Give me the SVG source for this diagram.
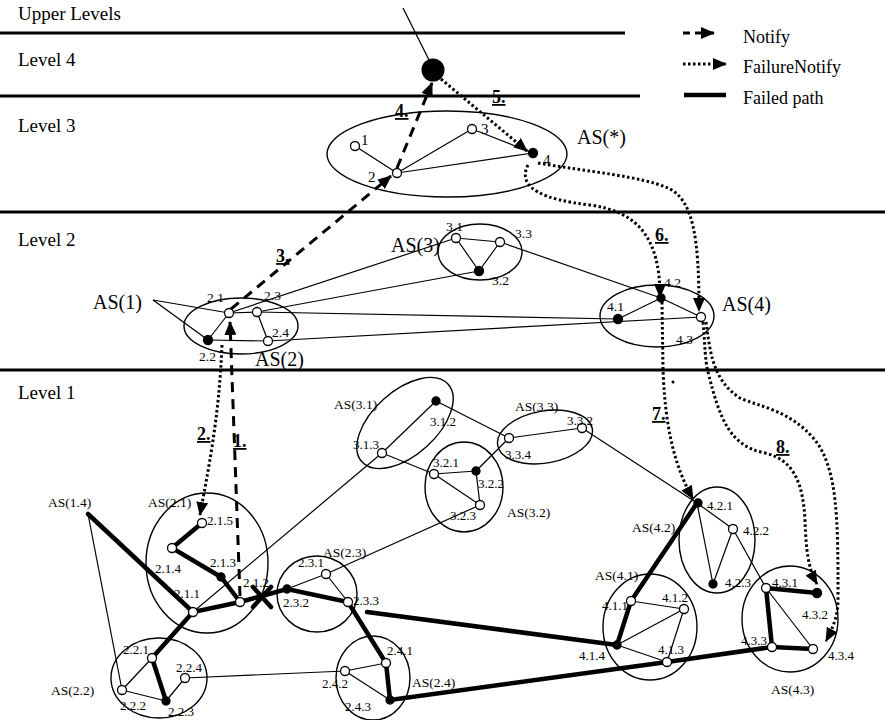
<svg xmlns="http://www.w3.org/2000/svg" width="885" height="720" viewBox="0 0 885 720">
<style>
text{font-family:"Liberation Serif","Times New Roman",serif;fill:#000}
.lv{font-size:19px}
.lg{font-size:18px}
.as2{font-size:20px}
.n2{font-size:13.5px}
.n1{font-size:13px}
.as1{font-size:13.5px}
.st{font-size:18px;font-weight:bold;text-decoration:underline}
.o{fill:#fff;stroke:#000;stroke-width:1.3}
.f{fill:#000;stroke:#000;stroke-width:1.3}
.el{fill:none;stroke:#000;stroke-width:1.4}
.band{stroke:#000;stroke-width:3}
.thin{stroke:#000;stroke-width:1.2;fill:none}
.thick{stroke:#000;stroke-width:4.5;fill:none;stroke-linecap:round}
.dash{stroke:#000;stroke-width:3;fill:none;stroke-dasharray:10 7}
.dot{stroke:#000;stroke-width:3;fill:none;stroke-dasharray:2.5 2.5}
</style>
<defs>
<marker id="ah" markerUnits="userSpaceOnUse" markerWidth="14" markerHeight="12" refX="13" refY="6" orient="auto">
<path d="M0,0 L14,6 L0,12 z" fill="#000"/>
</marker>
</defs>
<rect width="885" height="720" fill="#fff"/>

<g id="bands">
<line class="band" x1="0" y1="33" x2="625" y2="33"/>
<line class="band" x1="0" y1="96" x2="640" y2="96"/>
<line class="band" x1="0" y1="212" x2="885" y2="212"/>
<line class="band" x1="0" y1="370" x2="885" y2="370"/>
<text class="lv" x="18" y="20">Upper Levels</text>
<text class="lv" x="18" y="66">Level 4</text>
<text class="lv" x="18" y="132">Level 3</text>
<text class="lv" x="18" y="246">Level 2</text>
<text class="lv" x="18" y="399">Level 1</text>
</g>

<g id="legend">
<line class="dash" x1="683" y1="33" x2="714" y2="33" marker-end="url(#ah)" style="stroke-dasharray:7 5"/>
<text class="lg" x="743" y="43">Notify</text>
<line class="dot" x1="683" y1="64" x2="726" y2="64" marker-end="url(#ah)"/>
<text class="lg" x="743" y="73">FailureNotify</text>
<line class="thick" x1="684" y1="95" x2="726" y2="95" style="stroke-linecap:butt"/>
<text class="lg" x="743" y="104">Failed path</text>
</g>

<g id="connectors">
<!-- level 4/3 -->
<line class="thin" x1="403" y1="8" x2="430" y2="62"/>
<line class="thin" x1="355" y1="146" x2="397" y2="173"/>
<line class="thin" x1="397" y1="173" x2="472" y2="129"/>
<line class="thin" x1="397" y1="173" x2="533" y2="153"/>
<line class="thin" x1="472" y1="129" x2="533" y2="153"/>
<!-- level 2 -->
<line class="thin" x1="153" y1="300" x2="229" y2="313"/>
<line class="thin" x1="153" y1="300" x2="208" y2="340"/>
<line class="thin" x1="229" y1="313" x2="208" y2="340"/>
<line class="thin" x1="208" y1="340" x2="268" y2="341"/>
<line class="thin" x1="229" y1="313" x2="257" y2="312"/>
<line class="thin" x1="257" y1="312" x2="268" y2="341"/>
<line class="thin" x1="229" y1="313" x2="456" y2="238"/>
<line class="thin" x1="257" y1="312" x2="479" y2="271"/>
<line class="thin" x1="257" y1="312" x2="618" y2="319"/>
<line class="thin" x1="268" y1="341" x2="701" y2="317"/>
<line class="thin" x1="456" y1="238" x2="500" y2="242"/>
<line class="thin" x1="456" y1="238" x2="479" y2="271"/>
<line class="thin" x1="500" y1="242" x2="479" y2="271"/>
<line class="thin" x1="500" y1="242" x2="661" y2="298"/>
<line class="thin" x1="661" y1="298" x2="701" y2="317"/>
<line class="thin" x1="618" y1="319" x2="661" y2="298"/>
<!-- level 1 thin -->
<line class="thin" x1="88" y1="514" x2="122" y2="690"/>
<line class="thin" x1="152" y1="658" x2="122" y2="690"/>
<line class="thin" x1="122" y1="690" x2="166" y2="701"/>
<line class="thin" x1="166" y1="701" x2="185" y2="678"/>
<line class="thin" x1="185" y1="678" x2="345" y2="671"/>
<line class="thin" x1="193" y1="612" x2="382" y2="453"/>
<line class="thin" x1="382" y1="453" x2="436" y2="401"/>
<line class="thin" x1="436" y1="401" x2="509" y2="438"/>
<line class="thin" x1="382" y1="453" x2="434" y2="474"/>
<line class="thin" x1="434" y1="474" x2="476" y2="471"/>
<line class="thin" x1="434" y1="474" x2="480" y2="505"/>
<line class="thin" x1="476" y1="471" x2="480" y2="505"/>
<line class="thin" x1="476" y1="471" x2="509" y2="438"/>
<line class="thin" x1="509" y1="438" x2="582" y2="428"/>
<line class="thin" x1="582" y1="428" x2="697" y2="503"/>
<line class="thin" x1="480" y1="505" x2="326" y2="574"/>
<line class="thin" x1="326" y1="574" x2="287" y2="589"/>
<line class="thin" x1="326" y1="574" x2="348" y2="602"/>
<line class="thin" x1="345" y1="671" x2="386" y2="663"/>
<line class="thin" x1="345" y1="671" x2="390" y2="700"/>
<line class="thin" x1="697" y1="503" x2="733" y2="529"/>
<line class="thin" x1="697" y1="503" x2="713" y2="584"/>
<line class="thin" x1="733" y1="529" x2="713" y2="584"/>
<line class="thin" x1="733" y1="529" x2="766" y2="588"/>
<line class="thin" x1="766" y1="588" x2="813" y2="649"/>
<line class="thin" x1="631" y1="601" x2="684" y2="609"/>
<line class="thin" x1="617" y1="645" x2="684" y2="609"/>
<line class="thin" x1="684" y1="609" x2="667" y2="662"/>
<line class="thin" x1="617" y1="645" x2="667" y2="662"/>
<!-- failed path (thick) -->
<line class="thick" x1="88" y1="514" x2="193" y2="612"/>
<polyline class="thick" points="202,523 172,548 221,577 240,602"/>
<polyline class="thick" points="152,658 193,612 240,602 287,589 348,602 386,663 390,700 667,662 772,647 813,649"/>
<line class="thick" x1="152" y1="658" x2="166" y2="701"/>
<polyline class="thick" points="367,612 617,645 631,601 697,503"/>
<polyline class="thick" points="817,593 766,588 772,647"/>
<line class="thick" x1="253" y1="587" x2="271" y2="607"/>
<line class="thick" x1="253" y1="607" x2="271" y2="587"/>
<!-- Notify (dashed) -->
<path class="dash" d="M240,596 L230,322" marker-end="url(#ah)"/>
<path class="dash" d="M231,309 L391,176" marker-end="url(#ah)"/>
<path class="dash" d="M397,168 L432,83" marker-end="url(#ah)"/>
<!-- FailureNotify (dotted) -->
<path class="dot" d="M441,79 L527,151" marker-end="url(#ah)"/>
<path class="dot" d="M222,345 C219,420 208,470 200,515" marker-end="url(#ah)"/>
<path class="dot" d="M538,163 C590,172 640,176 668,188 C694,200 699,240 699,311" marker-end="url(#ah)"/>
<path class="dot" d="M528,165 C516,188 545,200 590,205 C640,212 660,240 660,297" marker-end="url(#ah)"/>
<path class="dot" d="M662,302 L663,370 C665,420 672,462 693,499" marker-end="url(#ah)"/>
<path class="dot" d="M703,322 C705,345 705,360 708,372 C720,420 730,446 765,453 C795,460 803,485 805,520 C806,550 808,568 817,584" marker-end="url(#ah)"/>
<path class="dot" d="M706,322 C710,350 712,380 740,398 C760,407 790,410 815,440 C838,470 838,520 838,600 C838,615 833,628 826,641" marker-end="url(#ah)"/>
<circle cx="673" cy="382" r="1.5" fill="#000"/>
</g>

<g id="steps">
<text class="st" x="197" y="440">2.</text>
<text class="st" x="233" y="447">1.</text>
<text class="st" x="276" y="262">3.</text>
<text class="st" x="395" y="117">4.</text>
<text class="st" x="492" y="103">5.</text>
<text class="st" x="655" y="241">6.</text>
<text class="st" x="652" y="420">7.</text>
<text class="st" x="776" y="453">8.</text>
</g>

<!-- level 4 -->
<g id="top"><circle cx="433" cy="70" r="11.5" fill="#000"/></g>

<!-- level 3 -->
<g id="as-star"><ellipse class="el" cx="447" cy="154" rx="120" ry="43"/><text class="as2" x="577" y="144">AS(*)</text></g>
<g id="l3-1"><circle class="o" cx="355" cy="146" r="4.5"/><text class="n2" x="361" y="145" style="font-size:15px">1</text></g>
<g id="l3-2"><circle class="o" cx="397" cy="173" r="4.5"/><text class="n2" x="368" y="182" style="font-size:15px">2</text></g>
<g id="l3-3"><circle class="o" cx="472" cy="129" r="4.5"/><text class="n2" x="481" y="134" style="font-size:15px">3</text></g>
<g id="l3-4"><circle class="f" cx="533" cy="153" r="4.5"/><text class="n2" x="543" y="165" style="font-size:15px">4</text></g>

<!-- level 2 -->
<g id="as1-2"><ellipse class="el" cx="241" cy="326" rx="57" ry="28"/><text class="as2" x="93" y="309">AS(1)</text><text class="as2" x="255" y="366">AS(2)</text></g>
<g id="n2-1"><circle class="o" cx="229" cy="313" r="4.5"/><text class="n2" x="207" y="302">2.1</text></g>
<g id="n2-2"><circle class="f" cx="208" cy="340" r="4.5"/><text class="n2" x="199" y="361">2.2</text></g>
<g id="n2-3"><circle class="o" cx="257" cy="312" r="4.5"/><text class="n2" x="264" y="300">2.3</text></g>
<g id="n2-4"><circle class="o" cx="268" cy="341" r="4.5"/><text class="n2" x="272" y="337">2.4</text></g>
<g id="as3"><ellipse class="el" cx="480" cy="252" rx="42" ry="28"/><text class="as2" x="391" y="252">AS(3)</text></g>
<g id="n3-1"><circle class="o" cx="456" cy="238" r="4.5"/><text class="n2" x="446" y="231">3.1</text></g>
<g id="n3-3"><circle class="o" cx="500" cy="242" r="4.5"/><text class="n2" x="515" y="238">3.3</text></g>
<g id="n3-2"><circle class="f" cx="479" cy="271" r="4.5"/><text class="n2" x="492" y="285">3.2</text></g>
<g id="as4"><ellipse class="el" cx="657" cy="316" rx="57" ry="31"/><text class="as2" x="722" y="311">AS(4)</text></g>
<g id="n4-1"><circle class="f" cx="618" cy="319" r="4.5"/><text class="n2" x="607" y="311">4.1</text></g>
<g id="n4-2"><circle class="f" cx="661" cy="298" r="4"/><text class="n2" x="664" y="287">4.2</text></g>
<g id="n4-3"><circle class="o" cx="701" cy="317" r="4.5"/><text class="n2" x="676" y="344">4.3</text></g>

<!-- level 1 -->
<g id="as1-4"><text class="as1" x="48" y="507">AS(1.4)</text></g>
<g id="as2-1"><ellipse class="el" cx="207" cy="563" rx="61" ry="70"/><text class="as1" x="148" y="507">AS(2.1)</text></g>
<g id="n2-1-5"><circle class="o" cx="202" cy="523" r="4.5"/><text class="n1" x="207" y="525">2.1.5</text></g>
<g id="n2-1-4"><circle class="o" cx="172" cy="548" r="4.5"/><text class="n1" x="155" y="573">2.1.4</text></g>
<g id="n2-1-3"><circle class="f" cx="221" cy="577" r="4"/><text class="n1" x="210" y="567">2.1.3</text></g>
<g id="n2-1-1"><circle class="o" cx="193" cy="612" r="4.5"/><text class="n1" x="174" y="598">2.1.1</text></g>
<g id="n2-1-2"><circle class="o" cx="240" cy="602" r="4.5"/><text class="n1" x="243" y="587">2.1.2</text></g>
<g id="as2-2"><ellipse class="el" cx="159" cy="678" rx="48" ry="40"/><text class="as1" x="51" y="695">AS(2.2)</text></g>
<g id="n2-2-1"><circle class="o" cx="152" cy="658" r="4.5"/><text class="n1" x="123" y="654">2.2.1</text></g>
<g id="n2-2-2"><circle class="o" cx="122" cy="690" r="4.5"/><text class="n1" x="120" y="710">2.2.2</text></g>
<g id="n2-2-3"><circle class="f" cx="166" cy="701" r="4"/><text class="n1" x="168" y="716">2.2.3</text></g>
<g id="n2-2-4"><circle class="o" cx="185" cy="678" r="4.5"/><text class="n1" x="176" y="672">2.2.4</text></g>
<g id="as3-1"><ellipse class="el" cx="405" cy="423" rx="58" ry="32" transform="rotate(-42 405 423)"/><text class="as1" x="334" y="409">AS(3.1)</text></g>
<g id="n3-1-2"><circle class="f" cx="436" cy="401" r="4"/><text class="n1" x="430" y="426">3.1.2</text></g>
<g id="n3-1-3"><circle class="o" cx="382" cy="453" r="4.5"/><text class="n1" x="353" y="449">3.1.3</text></g>
<g id="as3-2"><ellipse class="el" cx="464" cy="487" rx="39" ry="45"/><text class="as1" x="507" y="517">AS(3.2)</text></g>
<g id="n3-2-1"><circle class="o" cx="434" cy="474" r="4.5"/><text class="n1" x="433" y="467">3.2.1</text></g>
<g id="n3-2-2"><circle class="f" cx="476" cy="471" r="4"/><text class="n1" x="478" y="488">3.2.2</text></g>
<g id="n3-2-3"><circle class="o" cx="480" cy="505" r="4.5"/><text class="n1" x="450" y="520">3.2.3</text></g>
<g id="as3-3"><ellipse class="el" cx="545" cy="437" rx="48" ry="26" transform="rotate(-10 545 437)"/><text class="as1" x="515" y="411">AS(3.3)</text></g>
<g id="n3-3-4"><circle class="o" cx="509" cy="438" r="4.5"/><text class="n1" x="505" y="459">3.3.4</text></g>
<g id="n3-3-2"><circle class="o" cx="582" cy="428" r="4.5"/><text class="n1" x="567" y="425">3.3.2</text></g>
<g id="as2-3"><ellipse class="el" cx="317" cy="594" rx="40" ry="38"/><text class="as1" x="323" y="557">AS(2.3)</text></g>
<g id="n2-3-1"><circle class="o" cx="326" cy="574" r="4.5"/><text class="n1" x="298" y="567">2.3.1</text></g>
<g id="n2-3-2"><circle class="f" cx="287" cy="589" r="4"/><text class="n1" x="283" y="607">2.3.2</text></g>
<g id="n2-3-3"><circle class="o" cx="348" cy="602" r="4.5"/><text class="n1" x="353" y="605">2.3.3</text></g>
<g id="as2-4"><ellipse class="el" cx="373" cy="678" rx="37" ry="42"/><text class="as1" x="412" y="687">AS(2.4)</text></g>
<g id="n2-4-1"><circle class="o" cx="386" cy="663" r="4.5"/><text class="n1" x="387" y="655">2.4.1</text></g>
<g id="n2-4-2"><circle class="o" cx="345" cy="671" r="4.5"/><text class="n1" x="322" y="688">2.4.2</text></g>
<g id="n2-4-3"><circle class="f" cx="390" cy="700" r="4"/><text class="n1" x="345" y="711">2.4.3</text></g>
<g id="as4-2"><ellipse class="el" cx="717" cy="540" rx="38" ry="53"/><text class="as1" x="632" y="532">AS(4.2)</text></g>
<g id="n4-2-1"><circle class="f" cx="698" cy="503" r="4"/><text class="n1" x="707" y="510">4.2.1</text></g>
<g id="n4-2-2"><circle class="o" cx="733" cy="529" r="4.5"/><text class="n1" x="743" y="535">4.2.2</text></g>
<g id="n4-2-3"><circle class="f" cx="713" cy="584" r="4"/><text class="n1" x="725" y="587">4.2.3</text></g>
<g id="as4-1"><ellipse class="el" cx="650" cy="627" rx="47" ry="53"/><text class="as1" x="595" y="580">AS(4.1)</text></g>
<g id="n4-1-1"><circle class="o" cx="631" cy="601" r="4.5"/><text class="n1" x="602" y="610">4.1.1</text></g>
<g id="n4-1-2"><circle class="o" cx="684" cy="609" r="4.5"/><text class="n1" x="662" y="602">4.1.2</text></g>
<g id="n4-1-3"><circle class="o" cx="667" cy="662" r="4.5"/><text class="n1" x="658" y="654">4.1.3</text></g>
<g id="n4-1-4"><circle class="f" cx="617" cy="645" r="4"/><text class="n1" x="579" y="660">4.1.4</text></g>
<g id="as4-3"><ellipse class="el" cx="790" cy="619" rx="48" ry="53"/><text class="as1" x="771" y="694">AS(4.3)</text></g>
<g id="n4-3-1"><circle class="o" cx="766" cy="588" r="4.5"/><text class="n1" x="772" y="587">4.3.1</text></g>
<g id="n4-3-2"><circle class="f" cx="817" cy="593" r="4.5"/><text class="n1" x="802" y="619">4.3.2</text></g>
<g id="n4-3-3"><circle class="o" cx="772" cy="647" r="4.5"/><text class="n1" x="741" y="645">4.3.3</text></g>
<g id="n4-3-4"><circle class="o" cx="813" cy="649" r="4.5"/><text class="n1" x="828" y="660">4.3.4</text></g>
</svg>
